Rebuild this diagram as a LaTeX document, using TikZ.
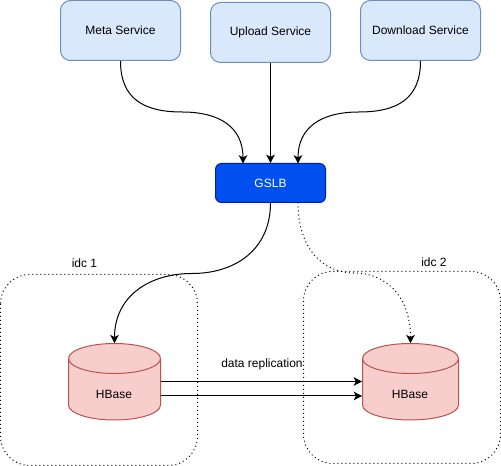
\documentclass[tikz,border=0pt]{standalone}
\usepackage{fontspec}
\setmainfont{Liberation Sans}
\usetikzlibrary{arrows.meta}
\definecolor{svcfill}{HTML}{DAE8FC}
\definecolor{svcline}{HTML}{6C8EBF}
\definecolor{gfill}{HTML}{0050EF}
\definecolor{gline}{HTML}{001DBC}
\definecolor{cfill}{HTML}{F8CECC}
\definecolor{cline}{HTML}{B85450}
\tikzset{
  svc/.style={draw=svcline,fill=svcfill,rounded corners=7.5pt,minimum width=90pt,minimum height=45pt,inner sep=0pt,line width=0.75pt,text=black},
  gslb/.style={draw=gline,fill=gfill,rounded corners=4.5pt,minimum width=82.5pt,minimum height=29.25pt,inner sep=0pt,line width=0.75pt,text=white},
  zone/.style={draw=black,line width=0.75pt,dash pattern=on 0.75pt off 2.25pt,rounded corners=22pt},
  cyl/.style={draw=cline,fill=cfill,line width=0.75pt},
  cyltext/.style={minimum height=57pt,inner sep=0pt},
  lbl/.style={inner sep=0pt,text=black},
  conn/.style={draw=black,line width=0.75pt,-{Stealth[length=6.2pt,width=6.4pt,inset=1.6pt]}},
  dotconn/.style={conn,dash pattern=on 0.75pt off 2.25pt}
}
\begin{document}
\begin{tikzpicture}[x=0.75pt,y=-0.75pt,font=\fontsize{9pt}{11pt}\selectfont]
\useasboundingbox (0,0) rectangle (501,466);
% zones
\draw[zone] (0.5,274.5) rectangle (197.5,465.5);
\draw[zone] (303.5,271.5) rectangle (500.5,463.5);
\node[lbl] (l1) at (84.5,263) {idc 1};
\node[lbl] (l2) at (434,262.5) {idc 2};
% services
\node[svc] (meta) at (120.5,30.5) {Meta Service};
\node[svc] (upload) at (270.5,32.5) {Upload Service};
\node[svc] (down) at (420.5,30.5) {Download Service};
\node[gslb] (g) at (270.5,183) {GSLB};
\coordinate (gw) at (243,163.5);
\coordinate (ge) at (298,163.5);
\coordinate (gse) at (298,202.5);
\coordinate (m1) at (182,112);
\coordinate (m2) at (359,112);
\coordinate (m3) at (192,273.5);
\coordinate (m4) at (354.5,273);
% cylinders
\draw[cyl] (68.5,358.5) arc[start angle=180,end angle=360,x radius=46,y radius=15] -- (160.5,405) arc[start angle=0,end angle=180,x radius=46,y radius=15] -- cycle;
\draw[cyl] (68.5,358.5) arc[start angle=180,end angle=0,x radius=46,y radius=15];
\node[cyltext,minimum width=69pt] (h1) at (114.5,381.5) {};
\node[lbl] (t1) at (114,394) {HBase};
\draw[cyl] (362.5,358.5) arc[start angle=180,end angle=360,x radius=48,y radius=15] -- (458.5,405) arc[start angle=0,end angle=180,x radius=48,y radius=15] -- cycle;
\draw[cyl] (362.5,358.5) arc[start angle=180,end angle=0,x radius=48,y radius=15];
\node[cyltext,minimum width=72pt] (h2) at (410.5,381.5) {};
\node[lbl] (t2) at (410,394) {HBase};
% connectors
\draw[conn] (meta.south) .. controls +(0,38) and +(-38,0) .. (m1) .. controls +(38,0) and +(0,-36) .. (gw);
\draw[conn] (upload.south) -- (g.north);
\draw[conn] (down.south) .. controls +(0,38) and +(38,0) .. (m2) .. controls +(-38,0) and +(0,-36) .. (ge);
\draw[conn] (g.south) .. controls +(0,46) and +(44,0) .. (m3) .. controls +(-44,0) and +(0,-46) .. (h1.north);
\draw[dotconn] (gse) .. controls +(0,46) and +(-32,0) .. (m4) .. controls +(32,0) and +(0,-46) .. (h2.north);
\coordinate (r1a) at (160.5,381.5);
\coordinate (r1b) at (362,381.5);
\coordinate (r2a) at (160.5,396);
\coordinate (r2b) at (362,396);
\draw[conn] (r1a) -- (r1b);
\draw[conn] (r2a) -- (r2b);
\node[lbl] (rep) at (262,364) {data replication};
\end{tikzpicture}
\end{document}
